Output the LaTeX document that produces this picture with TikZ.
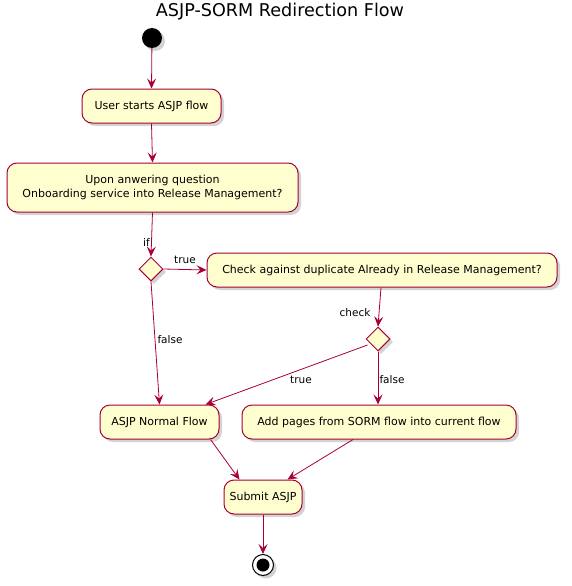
\documentclass[tikz,border=0pt]{standalone}
\usepackage{fontspec}
\setmainfont{DejaVu Sans}
\usetikzlibrary{arrows.meta,shapes.geometric,shadows,calc}
\definecolor{umlred}{HTML}{A80036}
\definecolor{umlfill}{HTML}{FEFECE}
\begin{document}
\begin{tikzpicture}[x=1pt,y=-1pt,
  shadowed/.style={drop shadow={shadow xshift=3pt,shadow yshift=-3pt,opacity=0.35,fill=gray}},
  actbox/.style={draw=umlred,fill=umlfill,line width=1pt,rounded corners=10pt,
    inner sep=0pt,align=center,font=\fontsize{11}{14.5}\selectfont,shadowed},
  decision/.style={draw=umlred,fill=umlfill,line width=1pt,diamond,inner sep=0pt,
    minimum width=24pt,minimum height=24pt,shadowed},
  flow/.style={draw=umlred,line width=0.8pt,-{Stealth[length=10pt,width=9pt,inset=4pt]}},
  lbl/.style={font=\fontsize{10.5}{12}\selectfont,inner sep=1pt},
]
\useasboundingbox (0,0) rectangle (571,586);
\node[font=\fontsize{17.6}{20}\selectfont] (title) at (280,12) {ASJP-SORM Redirection Flow};
\node[circle,fill=black,minimum size=20pt,inner sep=0pt,shadowed] (start) at (152,38) {};
\node[actbox,minimum width=139pt,minimum height=34pt] (b1) at (151.5,106) {User starts ASJP flow};
\node[actbox,minimum width=291pt,minimum height=49pt] (b2) at (152.5,187.5) {Upon anwering question\\Onboarding service into Release Management?};
\node[decision] (d1) at (151,269) {};
\node[actbox,minimum width=350pt,minimum height=34pt] (b3) at (382,270) {Check against duplicate Already in Release Management?};
\node[decision] (d2) at (378,339) {};
\node[actbox,minimum width=119pt,minimum height=34pt] (b4) at (159.5,422) {ASJP Normal Flow};
\node[actbox,minimum width=274pt,minimum height=34pt] (b5) at (379,422) {Add pages from SORM flow into current flow};
\node[actbox,minimum width=78pt,minimum height=34pt] (b6) at (263,497) {Submit ASJP};
\node[circle,draw=black,fill=white,line width=1pt,minimum size=21pt,inner sep=0pt,shadowed] (endo) at (263,565) {};
\node[circle,fill=black,minimum size=13pt,inner sep=0pt] (endi) at (263,565) {};

\draw[flow] (start) -- (b1.north);
\draw[flow] (b1.south) -- (b2.north);
\draw[flow] (b2.south) -- (d1.north);
\draw[flow] (d1.east) -- (b3.west);
\draw[flow] ($(b3.south)+(-1,0)$) -- (d2.north);
\draw[flow] (d1.south) -- (b4.north);
\draw[flow] ($(d2.west)+(2,6)$) -- ($(b4.north east)+(-14,0)$);
\draw[flow] (d2.south) -- ($(b5.north)+(-1,0)$);
\draw[flow] ($(b4.south east)+(-9,0)$) -- ($(b6.north west)+(16,0)$);
\draw[flow] ($(b5.south)+(-26,0)$) -- ($(b6.north east)+(-15,0)$);
\draw[flow] (b6.south) -- (endo.north);

\node[lbl,anchor=east] (lif) at (151,243) {if};
\node[lbl] (lt1) at (185,260) {true};
\node[lbl] (lf1) at (170,340) {false};
\node[lbl] (lck) at (355,313) {check};
\node[lbl] (lt2) at (301,380) {true};
\node[lbl] (lf2) at (392,380) {false};
\end{tikzpicture}
\end{document}
